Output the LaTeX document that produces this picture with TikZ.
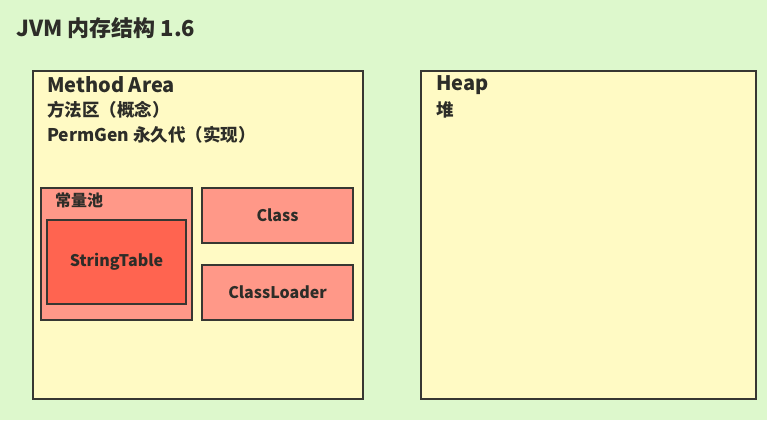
\documentclass[tikz,border=0pt]{standalone}
\usepackage{fontspec}
\setmainfont{Noto Sans CJK SC}
\usetikzlibrary{positioning}
\definecolor{bggreen}{RGB}{221,248,204}
\definecolor{areafill}{RGB}{255,250,196}
\definecolor{poolfill}{RGB}{255,152,136}
\definecolor{tablefill}{RGB}{255,100,80}
\definecolor{edgegray}{RGB}{55,55,50}
\definecolor{txtgray}{RGB}{45,45,40}

\begin{document}
\begin{tikzpicture}[x=1pt,y=-1pt,
    area/.style={draw=edgegray,line width=2pt,fill=areafill,anchor=north west,inner sep=0pt},
    pool/.style={draw=edgegray,line width=2pt,fill=poolfill,anchor=north west,inner sep=0pt},
    strtab/.style={draw=edgegray,line width=2pt,fill=tablefill,anchor=north west,inner sep=0pt},
    heading/.style={anchor=west,inner sep=0pt,text=txtgray,font=\fontsize{20}{24}\selectfont\bfseries},
    subhead/.style={anchor=west,inner sep=0pt,text=txtgray,font=\fontsize{17.5}{21}\selectfont\bfseries},
    boxtext/.style={text=txtgray,font=\fontsize{16}{19}\selectfont\bfseries}]
  % background
  \fill [bggreen] (0,0) rectangle (767,420);
  \useasboundingbox (0,0) rectangle (767,420);
  % title
  \node [heading,font=\fontsize{22}{26}\selectfont\bfseries] (title) at (16,28) {JVM 内存结构 1.6};
  % method area
  \node [area,minimum width=330pt,minimum height=328pt] (method) at (32,70) {};
  \node [heading] (mtitle) at (47,85) {Method Area};
  \node [subhead] (mconcept) at (47,110) {方法区（概念）};
  \node [subhead] (mimpl) at (47,135) {PermGen 永久代（实现）};
  % constant pool
  \node [pool,minimum width=151pt,minimum height=132pt] (cpool) at (40,187) {};
  \node [anchor=west,inner sep=0pt,boxtext] (cplabel) at (55,200) {常量池};
  \node [strtab,minimum width=139pt,minimum height=84pt] (strtable) at (46,219) {};
  \node [boxtext] at (strtable.center) {StringTable};
  % class, classloader
  \node [pool,minimum width=151pt,minimum height=55pt] (class) at (201,187) {};
  \node [boxtext] at (class.center) {Class};
  \node [pool,minimum width=151pt,minimum height=55pt] (loader) at (201,264) {};
  \node [boxtext] at (loader.center) {ClassLoader};
  % heap
  \node [area,minimum width=335pt,minimum height=328pt] (heap) at (420,70) {};
  \node [heading] (htitle) at (436,85) {Heap};
  \node [subhead] (hname) at (436,110) {堆};
\end{tikzpicture}
\end{document}
